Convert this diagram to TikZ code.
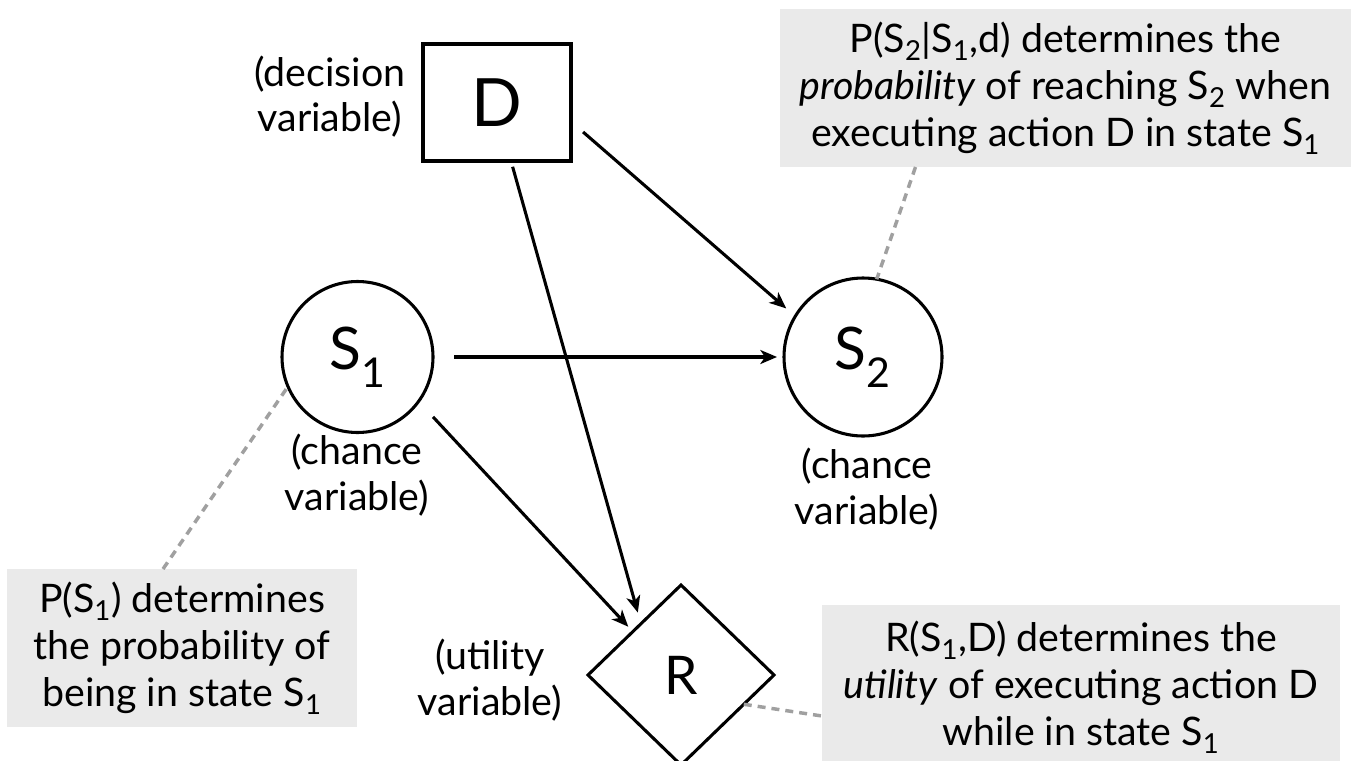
\documentclass[tikz,border=0pt]{standalone}
\usepackage{fontspec}
\setmainfont{Lato}
\usetikzlibrary{arrows.meta,shapes.geometric,calc}

\definecolor{notefill}{HTML}{EAEAEA}
\definecolor{calloutgray}{HTML}{A0A0A0}

\tikzset{
  every node/.style={inner sep=0pt, outer sep=0pt},
  decbox/.style={draw, line width=2.3pt, rectangle, minimum width=111pt, minimum height=87.75pt,
                 font=\fontsize{50}{50}\selectfont},
  chance/.style={draw, line width=2.3pt, circle, font=\fontsize{44}{44}\selectfont},
  utility/.style={draw, line width=2.3pt, diamond, minimum width=139.5pt, minimum height=135pt,
                  font=\fontsize{40}{40}\selectfont},
  varlabel/.style={align=center, font=\fontsize{29.5}{34}\selectfont},
  note/.style={fill=notefill, align=center, font=\fontsize{29.5}{35.25}\selectfont},
  arr/.style={line width=2.3pt, -{Stealth[length=12.5pt, width=10.5pt, inset=3.5pt]}},
  callout/.style={draw=calloutgray, line width=2.6pt, dash pattern=on 6pt off 4.5pt}
}

\begin{document}
\begin{tikzpicture}[x=0.75pt, y=-0.75pt]
  \useasboundingbox (0,0) rectangle (1351,760);
  \clip (0,0) rectangle (1351,760);

  % explanation boxes
  \node[note, minimum width=428.25pt, minimum height=118.5pt] (trans) at (1065.5,88)
    {P(S\textsubscript{2}|S\textsubscript{1},d) determines the\\
     \textit{probability} of reaching S\textsubscript{2} when\\
     executing action D in state S\textsubscript{1}};
  \node[note, minimum width=262.5pt, minimum height=118.5pt] (prior) at (182,648)
    {P(S\textsubscript{1}) determines\\
     the probability of\\
     being in state S\textsubscript{1}};
  \node[note, minimum width=388.5pt, minimum height=123.75pt] (util) at (1081,687.5)
    {R(S\textsubscript{1},D) determines the\\
     \textit{utility} of executing action D\\
     while in state S\textsubscript{1}};

  % variables
  \node[decbox] (D) at (497,102.5) {D};
  \node[chance, minimum size=113.25pt] (S1) at (357.5,357) {S\textsubscript{1}};
  \node[chance, minimum size=118.5pt] (S2) at (863,357) {S\textsubscript{2}};
  \node[utility] (R) at (681,675) {R};

  % variable kinds
  \node[varlabel] (Dlab) at (330,96.5) {(decision\\variable)};
  \node[varlabel] (S1lab) at (357,475) {(chance\\variable)};
  \node[varlabel] (S2lab) at (867,489) {(chance\\variable)};
  \node[varlabel] (Rlab) at (490,680) {(utility\\variable)};

  % dependencies
  \draw[arr, shorten <=12pt, shorten >=9pt] ($(D.east)+(0,19)$) -- (S2.149);
  \draw[arr, shorten <=4.5pt, shorten >=8.7pt] ($(D.south)+(14,0)$) -- (R.128);
  \draw[arr, shorten <=15.75pt, shorten >=5.25pt] (S1.east) -- (S2.west);
  \draw[arr, shorten <=15.9pt, shorten >=5pt] (S1.-36) -- (R.138);

  % callouts
  \draw[callout] ($(prior.north)+(-19,0)$) -- (S1.203.5);
  \draw[callout] ($(trans.south)+(-150,0)$) -- (S2.80);
  \draw[callout] (R.-25) -- ($(util.west)+(0,28.5)$);
\end{tikzpicture}
\end{document}
